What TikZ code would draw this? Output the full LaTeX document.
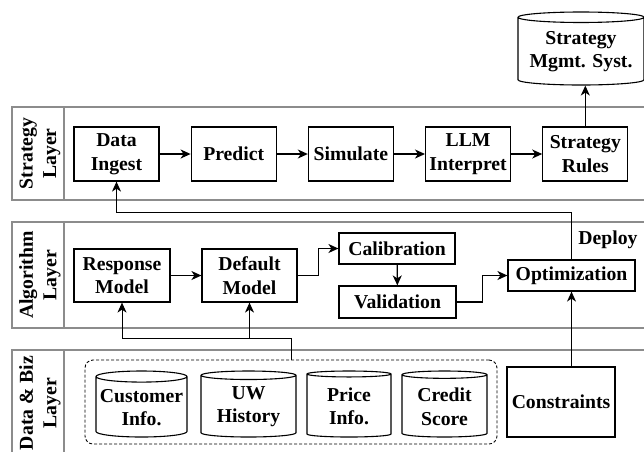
\documentclass[tikz,border=0pt]{standalone}
\usepackage{fontspec}
\setmainfont{Liberation Serif}
\usetikzlibrary{positioning, shapes.geometric, arrows.meta}

\begin{document}
\begin{tikzpicture}[x=1pt, y=-1pt,
    every node/.style={font=\bfseries\fontsize{19.7}{23.5}\selectfont, align=center},
    box/.style={draw, line width=1.2pt, inner sep=2pt},
    sbox/.style={box, minimum width=85pt, minimum height=54pt},
    db/.style={draw, line width=1.1pt, cylinder, shape border rotate=90,
        aspect=0.13, inner sep=1pt, minimum height=66pt, anchor=shape center},
    layer/.style={draw=gray!90, line width=2pt},
    arr/.style={-{Stealth[length=10pt, width=9pt, inset=3pt]}, line width=1.3pt},
    node distance=31pt]
\useasboundingbox (0,0) rectangle (644,451);
\clip (0,0) rectangle (644,451);

% layer bands with their labels
\foreach \t/\b/\c/\lab in {107/200/153.5/{Strategy\\Layer},
        222/328/275/{Algorithm\\Layer}, 350/456/403/{Data \& Biz\\Layer}}{
    \draw[layer] (12,\t) rectangle (660,\b);
    \draw[layer] (64,\t) -- (64,\b);
    \node[rotate=90] (lab\t) at (40,\c) {\lab};}

% strategy layer
\node[sbox] (din) at (116.5,154) {Data\\Ingest};
\node[sbox, right=of din] (prd) {Predict};
\node[sbox, right=of prd] (sim) {Simulate};
\node[sbox, right=of sim] (llm) {LLM\\Interpret};
\node[sbox, right=of llm] (srl) {Strategy\\Rules};
\node[db, minimum width=126pt, minimum height=73pt, aspect=0.1] (sms) at (581,48.5) {Strategy\\Mgmt. Syst.};

% algorithm layer
\node[box, minimum width=96pt, minimum height=53pt] (rsp) at (122,275.5) {Response\\Model};
\node[box, minimum width=95pt, minimum height=53pt] (dft) at (249.5,275.5) {Default\\Model};
\node[box, minimum width=116pt, minimum height=31pt] (cal) at (397,248.5) {Calibration};
\node[box, minimum width=117pt, minimum height=32pt] (val) at (397.5,302) {Validation};
\node[box, minimum width=127pt, minimum height=31pt] (opt) at (571.5,275.5) {Optimization};
\node (dep) at (608,240) {Deploy};

% data & biz layer
\node[draw, dashed, dash pattern=on 3pt off 2pt, rounded corners=8pt, line width=0.9pt,
    minimum width=412pt, minimum height=84pt] (src) at (291,402) {};
\node[db, minimum width=91pt] (cus) at (141.5,404) {Customer\\Info.};
\node[db, minimum width=95pt] (uwh) at (248.5,404) {UW\\History};
\node[db, minimum width=84pt] (prc) at (349,404) {Price\\Info.};
\node[db, minimum width=85pt] (crd) at (444.5,404) {Credit\\Score};
\node[box, minimum width=108pt, minimum height=70pt] (cns) at (561,402) {Constraints};

% connectors
\foreach \a/\b in {din/prd, prd/sim, sim/llm, llm/srl, rsp/dft}
    \draw[arr] (\a) -- (\b);
\draw[arr] (srl.north) -- (srl.north |- sms.south);
\draw[arr] (dft.east) -- ++(21,0) |- (cal.west);
\draw[arr] (cal) -- (val);
\draw[arr] (val.east) -- ++(26,0) |- (opt.west);
\draw[arr] (cns.north -| opt.south) -- (opt.south);
\coordinate (fb) at (571.5,212);
\draw[arr, line width=1pt] (opt.north) -- (fb) -| (din.south);
\coordinate (jn) at (291,338);
\draw[arr, line width=1pt] (src.north) -- (jn) -| (rsp.south);
\draw[arr, line width=1pt] (jn) -| (dft.south);
\end{tikzpicture}
\end{document}
